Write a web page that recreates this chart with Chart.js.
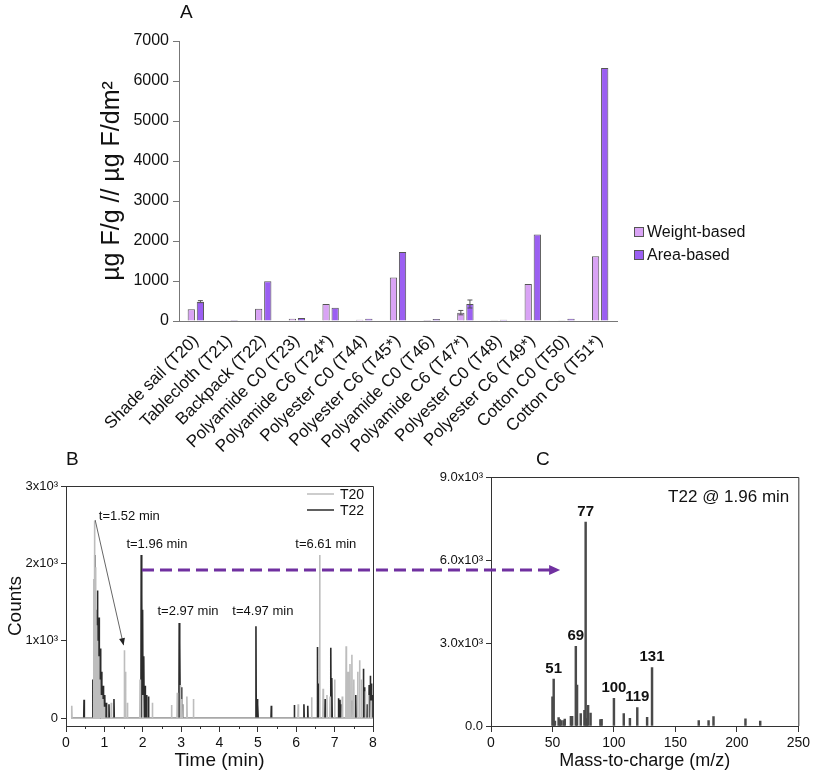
<!DOCTYPE html>
<html><head><meta charset="utf-8">
<script src="https://cdn.jsdelivr.net/npm/chart.js@4.4.1/dist/chart.umd.min.js"></script>
<style>
html,body{margin:0;padding:0;background:#fff;}
#wrap{position:relative;width:813px;height:778px;overflow:hidden;font-family:'Liberation Sans',Arial,sans-serif;}
canvas{position:absolute;}
.lbl{position:absolute;font-size:19px;color:#111;line-height:1;}
</style></head><body>
<div id="wrap">
<canvas id="cA" width="813" height="470" style="left:0;top:0;width:813px;height:470px"></canvas>
<canvas id="cB" width="410" height="338" style="left:0;top:440px;width:410px;height:338px"></canvas>
<canvas id="cC" width="403" height="338" style="left:410px;top:440px;width:403px;height:338px"></canvas>
<div class="lbl" style="left:180px;top:2px">A</div>
<div class="lbl" style="left:66px;top:449px">B</div>
<div class="lbl" style="left:536px;top:449px">C</div>
</div>
<script>
// ---------- Panel A data ----------
const categories = ['Shade sail (T20)','Tablecloth (T21)','Backpack (T22)','Polyamide C0 (T23)','Polyamide C6 (T24*)','Polyester C0 (T44)','Polyester C6 (T45*)','Polyamide C0 (T46)','Polyamide C6 (T47*)','Polyester C0 (T48)','Polyester C6 (T49*)','Cotton C0 (T50)','Cotton C6 (T51*)'];
const weightBased = [292, 20, 309, 58, 425, 33, 1085, 25, 209, 17, 926, 8, 1619];
const areaBased   = [484, 25, 993, 75, 334, 58, 1727, 50, 425, 33, 2161, 58, 6324];
const weightErr   = [0, 0, 0, 0, 0, 0, 0, 0, 55, 0, 0, 0, 0];
const areaErr     = [25, 0, 0, 0, 0, 0, 0, 0, 100, 0, 0, 0, 0];
const yTicksA = [0,1000,2000,3000,4000,5000,6000,7000];

// ---------- Panel B data (chromatogram peaks) ----------
const t20Times   = [0.15,0.72,0.74,0.76,0.78,0.80,0.82,0.85,0.88,0.92,0.96,1.00,1.18,1.52,1.55,1.60,1.93,2.00,2.25,2.75,2.90,2.98,3.02,3.15,3.32,6.05,6.40,6.61,6.70,6.80,6.88,7.00,7.20,7.30,7.35,7.40,7.45,7.50,7.60,7.65,7.70,7.80,7.88,7.95];
const t20Heights = [160,1800,2550,1950,1700,1200,1000,800,500,300,250,150,200,880,600,200,500,300,200,170,330,430,250,280,250,180,270,2110,380,300,280,500,280,930,600,700,820,500,600,750,500,350,300,230];
const t22Times   = [0.47,0.70,0.75,0.78,0.82,0.86,0.90,0.93,0.97,1.01,1.05,1.12,1.25,1.96,1.98,2.00,2.03,2.06,2.10,2.15,2.95,2.97,3.00,3.03,4.95,4.98,5.00,5.35,5.95,6.20,6.30,6.55,6.58,6.75,6.90,6.93,7.10,7.14,7.18,7.45,7.55,7.75,7.78,7.85,7.90,7.93,7.96,7.99];
const t22Heights = [240,500,2110,1400,1650,1300,900,600,420,300,200,180,250,2110,1600,1400,800,420,300,280,1230,980,400,180,1190,250,180,160,170,180,160,920,450,250,910,520,260,240,180,230,300,640,400,180,430,550,450,300];
const yTicksB = [0,1000,2000,3000];
const peakNotes = [
  {text:'t=1.52 min', x:1.65, y:2613},
  {text:'t=1.96 min', x:2.37, y:2250},
  {text:'t=2.97 min', x:3.18, y:1384},
  {text:'t=4.97 min', x:5.13, y:1384},
  {text:'t=6.61 min', x:6.77, y:2250}
];
const noteArrow = {x0:0.76, y0:2561, x1:1.50, y1:944};
const linkY_B = 1915, linkX0_B = 1.98, linkX1_C = 53;

// ---------- Panel C data (mass spectrum) ----------
const mzValues = [50,51,52,55,56,57,59,60,65,66,69,70,73,76,77,78,79,81,89,90,100,108,113,119,127,131,169,177,181,207,219];
const mzCounts = [1057,1700,180,300,230,200,200,250,350,350,2880,1480,450,570,7375,270,750,470,230,240,1000,450,280,670,316,2115,200,200,340,255,180];
const mzLabeled = [51,69,77,100,119,131];
const yTicksC = [0,3000,6000,9000];

Chart.defaults.font.family = "'Liberation Sans', Arial, sans-serif";
Chart.defaults.color = '#111';
const FONT = "'Liberation Sans', Arial, sans-serif";

// ---------- Panel A ----------
const errorBars = {
  id:'errorBars',
  afterDatasetsDraw(chart){
    const ctx = chart.ctx, ys = chart.scales.y;
    chart.data.datasets.forEach((ds,i)=>{
      const meta = chart.getDatasetMeta(i);
      meta.data.forEach((el,j)=>{
        const e = ds.errors[j]; if(!e) return;
        const v = ds.data[j];
        const yt = ys.getPixelForValue(v+e), yb = ys.getPixelForValue(Math.max(0,v-e));
        ctx.save(); ctx.strokeStyle='#555'; ctx.lineWidth=1;
        ctx.beginPath();
        ctx.moveTo(el.x,yt); ctx.lineTo(el.x,yb);
        ctx.moveTo(el.x-2.5,yt); ctx.lineTo(el.x+2.5,yt);
        ctx.moveTo(el.x-2.5,yb); ctx.lineTo(el.x+2.5,yb);
        ctx.stroke(); ctx.restore();
      });
    });
  }
};
const legendA = {
  id:'legendA',
  afterDraw(chart){
    const ctx = chart.ctx, x = chart.chartArea.right + 17;
    const ys = [232, 255];
    chart.data.datasets.forEach((ds,i)=>{
      ctx.save();
      ctx.fillStyle = ds.backgroundColor; ctx.strokeStyle='#555'; ctx.lineWidth=1;
      ctx.fillRect(x+0.5, ys[i]-4.5, 9, 9); ctx.strokeRect(x+0.5, ys[i]-4.5, 9, 9);
      ctx.fillStyle='#111'; ctx.font = '16px '+FONT; ctx.textBaseline='middle'; ctx.textAlign='left';
      ctx.fillText(ds.label, x+13, ys[i]+1);
      ctx.restore();
    });
  }
};
new Chart(document.getElementById('cA'), {
  type:'bar',
  data:{labels:categories, datasets:[
    {label:'Weight-based', data:weightBased, errors:weightErr, backgroundColor:'#d9a3f5', borderColor:'#555', borderWidth:1},
    {label:'Area-based', data:areaBased, errors:areaErr, backgroundColor:'#9b5ff2', borderColor:'#555', borderWidth:1}
  ]},
  options:{
    responsive:false, animation:false, events:[],
    layout:{padding:{left:0, top:41, right:196, bottom:0}},
    plugins:{legend:{display:false}, tooltip:{enabled:false}},
    datasets:{bar:{categoryPercentage:0.54, barPercentage:0.8}},
    scales:{
      x:{grid:{display:false}, border:{color:'#777'},
         ticks:{minRotation:45, maxRotation:45, autoSkip:false, font:{size:17}, color:'#111', padding:2},
         afterFit:s=>{s.height=149;}},
      y:{min:0, max:7000,
         afterBuildTicks:s=>{s.ticks = yTicksA.map(v=>({value:v}));},
         ticks:{font:{size:16}, color:'#111', padding:4, callback:v=>String(v)},
         grid:{drawOnChartArea:false, tickLength:6, color:'#777'}, border:{color:'#777'},
         title:{display:true, text:'µg F/g // µg F/dm²', font:{size:25}, color:'#111', padding:{top:97, bottom:0}},
         afterFit:s=>{s.width=179;}}
    }
  },
  plugins:[errorBars, legendA]
});

// ---------- Panel B ----------
function spikeSeries(times, heights){
  const d = 0.008;
  const pts = [{x:0.13, y:0}];
  times.forEach((t,i)=>{ pts.push({x:t-d,y:0},{x:t,y:heights[i]},{x:t+d,y:0}); });
  pts.push({x:8, y:0});
  return pts;
}
const frame = {
  id:'frame',
  afterDraw(chart){
    const {ctx, chartArea:a} = chart;
    ctx.save(); ctx.strokeStyle='#333'; ctx.lineWidth=1;
    ctx.beginPath();
    ctx.moveTo(a.left, a.top+0.5); ctx.lineTo(a.right+0.5, a.top+0.5); ctx.lineTo(a.right+0.5, a.bottom);
    ctx.stroke(); ctx.restore();
  }
};
const minorB = {
  id:'minorB',
  afterDraw(chart){
    const {ctx, chartArea:a} = chart, xs = chart.scales.x;
    ctx.save(); ctx.strokeStyle='#333'; ctx.lineWidth=1; ctx.beginPath();
    for(let v=0.5; v<8; v+=1){ const px = Math.round(xs.getPixelForValue(v))+0.5; ctx.moveTo(px,a.bottom); ctx.lineTo(px,a.bottom+3); }
    ctx.stroke(); ctx.restore();
  }
};
const notesB = {
  id:'notesB',
  afterDraw(chart){
    const ctx = chart.ctx, xs = chart.scales.x, ys = chart.scales.y, a = chart.chartArea;
    ctx.save();
    ctx.font = '13px '+FONT; ctx.fillStyle='#111'; ctx.textAlign='center'; ctx.textBaseline='middle';
    peakNotes.forEach(n=>ctx.fillText(n.text, xs.getPixelForValue(n.x), ys.getPixelForValue(n.y)));
    const x0=xs.getPixelForValue(noteArrow.x0), y0=ys.getPixelForValue(noteArrow.y0);
    const x1=xs.getPixelForValue(noteArrow.x1), y1=ys.getPixelForValue(noteArrow.y1);
    ctx.strokeStyle='#666'; ctx.lineWidth=1; ctx.beginPath(); ctx.moveTo(x0,y0); ctx.lineTo(x1,y1); ctx.stroke();
    const ang = Math.atan2(y1-y0, x1-x0);
    ctx.fillStyle='#222'; ctx.beginPath();
    ctx.moveTo(x1,y1);
    ctx.lineTo(x1-7*Math.cos(ang)+3*Math.sin(ang), y1-7*Math.sin(ang)-3*Math.cos(ang));
    ctx.lineTo(x1-7*Math.cos(ang)-3*Math.sin(ang), y1-7*Math.sin(ang)+3*Math.cos(ang));
    ctx.closePath(); ctx.fill();
    const lx = a.right - 66;
    const items = chart.data.datasets;
    [494-440, 510-440].forEach((yy,i)=>{
      ctx.strokeStyle = items[i].borderColor; ctx.lineWidth = 1.5;
      ctx.beginPath(); ctx.moveTo(lx, yy); ctx.lineTo(lx+27, yy); ctx.stroke();
      ctx.fillStyle='#111'; ctx.textAlign='left'; ctx.font='14px '+FONT;
      ctx.fillText(items[i].label, lx+33, yy+1);
    });
    const ly = ys.getPixelForValue(linkY_B), lx0 = xs.getPixelForValue(linkX0_B);
    window.__linkY = ly; window.__linkX0 = lx0;
    ctx.strokeStyle='#7030a0'; ctx.lineWidth=3; ctx.setLineDash([12,6]);
    ctx.beginPath(); ctx.moveTo(lx0, ly); ctx.lineTo(chart.width, ly); ctx.stroke();
    ctx.restore();
  }
};
new Chart(document.getElementById('cB'), {
  type:'line',
  data:{datasets:[
    {label:'T20', data:spikeSeries(t20Times,t20Heights), borderColor:'#bdbdbd', borderWidth:1.6, pointRadius:0, tension:0},
    {label:'T22', data:spikeSeries(t22Times,t22Heights), borderColor:'#2b2b2b', borderWidth:1.6, pointRadius:0, tension:0}
  ]},
  options:{
    responsive:false, animation:false, events:[],
    layout:{padding:{left:0, top:46, right:37, bottom:0}},
    plugins:{legend:{display:false}, tooltip:{enabled:false}},
    scales:{
      x:{type:'linear', min:0, max:8, ticks:{stepSize:1, font:{size:14}, color:'#111', padding:3},
         grid:{drawOnChartArea:false, offset:false, tickLength:6, color:'#333'}, border:{color:'#333'},
         title:{display:true, text:'Time (min)', font:{size:19}, color:'#111', padding:{top:0, bottom:6}},
         afterFit:s=>{s.height=52;}},
      y:{min:-100, max:3000,
         afterBuildTicks:s=>{s.ticks = yTicksB.map(v=>({value:v}));},
         ticks:{font:{size:13}, color:'#111', padding:3, callback:v=> v===0 ? '0' : (v/1000)+'x10³'},
         grid:{drawOnChartArea:false, tickLength:5, color:'#333'}, border:{color:'#333'},
         title:{display:true, text:'Counts', font:{size:19}, color:'#111', padding:{top:4, bottom:0}},
         afterFit:s=>{s.width=66;}}
    }
  },
  plugins:[frame, minorB, notesB]
});

// ---------- Panel C ----------
const notesC = {
  id:'notesC',
  afterDraw(chart){
    const ctx = chart.ctx, xs = chart.scales.x, ys = chart.scales.y, a = chart.chartArea;
    ctx.save();
    ctx.font = 'bold 15px '+FONT; ctx.fillStyle='#111'; ctx.textAlign='center'; ctx.textBaseline='bottom';
    mzLabeled.forEach(m=>{
      const i = mzValues.indexOf(m);
      ctx.fillText(String(m), xs.getPixelForValue(m), ys.getPixelForValue(mzCounts[i]) - 3);
    });
    ctx.font = '17px '+FONT; ctx.textAlign='right'; ctx.textBaseline='middle';
    ctx.fillText('T22 @ 1.96 min', a.right - 9, a.top + 20);
    const ly = (window.__linkY !== undefined) ? window.__linkY : 130;
    const x1 = xs.getPixelForValue(linkX1_C) + 4;
    const offs = (410 - (window.__linkX0 || 140)) % 18;
    ctx.strokeStyle='#7030a0'; ctx.lineWidth=3; ctx.setLineDash([12,6]); ctx.lineDashOffset = offs;
    ctx.beginPath(); ctx.moveTo(0, ly); ctx.lineTo(x1-9, ly); ctx.stroke();
    ctx.setLineDash([]); ctx.fillStyle='#7030a0';
    ctx.beginPath(); ctx.moveTo(x1, ly); ctx.lineTo(x1-11, ly-5); ctx.lineTo(x1-11, ly+5); ctx.closePath(); ctx.fill();
    ctx.restore();
  }
};
new Chart(document.getElementById('cC'), {
  type:'bar',
  data:{datasets:[
    {label:'T22 @ 1.96 min', data:mzValues.map((m,i)=>({x:m, y:mzCounts[i]})), backgroundColor:'#4a4a4a', barThickness:1.8}
  ]},
  options:{
    responsive:false, animation:false, events:[],
    layout:{padding:{left:0, top:37, right:13, bottom:0}},
    plugins:{legend:{display:false}, tooltip:{enabled:false}},
    scales:{
      x:{type:'linear', offset:false, min:0, max:250, ticks:{stepSize:50, font:{size:14}, color:'#111', padding:3},
         grid:{drawOnChartArea:false, offset:false, tickLength:6, color:'#333'}, border:{color:'#333'},
         title:{display:true, text:'Mass-to-charge (m/z)', font:{size:18}, color:'#111', padding:{top:0, bottom:6}},
         afterFit:s=>{s.height=52;}},
      y:{min:0, max:9000,
         afterBuildTicks:s=>{s.ticks = yTicksC.map(v=>({value:v}));},
         ticks:{font:{size:13}, color:'#111', padding:3, callback:v=> v===0 ? '0.0' : (v/1000).toFixed(1)+'x10³'},
         grid:{drawOnChartArea:false, tickLength:5, color:'#333'}, border:{color:'#333'},
         afterFit:s=>{s.width=81;}}
    }
  },
  plugins:[frame, notesC]
});
</script>
</body></html>
